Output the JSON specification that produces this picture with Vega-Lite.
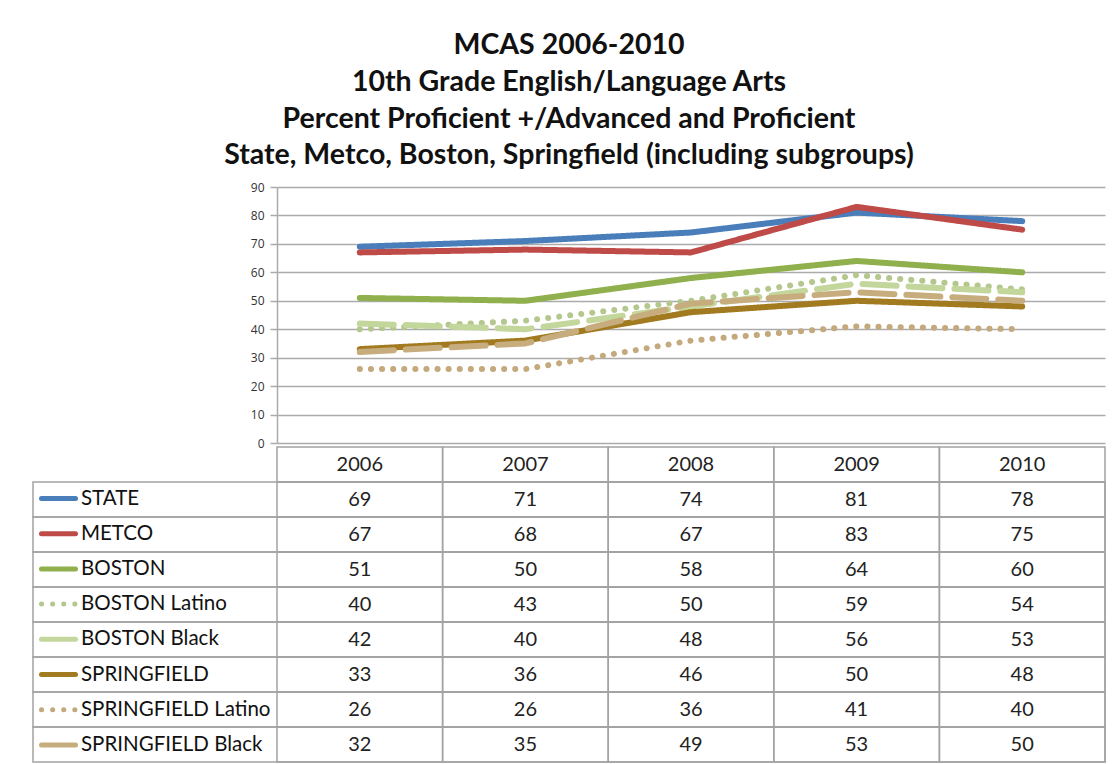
{
  "$schema": "https://vega.github.io/schema/vega-lite/v6.json",
  "width": 1072,
  "height": 575,
  "autosize": {"type": "none"},
  "padding": {"left": 33, "top": 187, "right": 12, "bottom": 2},
  "background": "white",
  "title": {
    "text": ["MCAS 2006-2010", "10th Grade English/Language Arts", "Percent Proficient +/Advanced and Proficient", "State, Metco, Boston, Springfield (including subgroups)"],
    "font": "Lato",
    "fontSize": 28.5,
    "fontWeight": "bold",
    "lineHeight": 36.8,
    "color": "#111111",
    "anchor": "middle",
    "offset": 11
  },
  "config": {"view": {"stroke": null}, "font": "Lato"},
  "datasets": {
    "vals": [
      {"series": "STATE", "year": 2006, "value": 69},
      {"series": "STATE", "year": 2007, "value": 71},
      {"series": "STATE", "year": 2008, "value": 74},
      {"series": "STATE", "year": 2009, "value": 81},
      {"series": "STATE", "year": 2010, "value": 78},
      {"series": "METCO", "year": 2006, "value": 67},
      {"series": "METCO", "year": 2007, "value": 68},
      {"series": "METCO", "year": 2008, "value": 67},
      {"series": "METCO", "year": 2009, "value": 83},
      {"series": "METCO", "year": 2010, "value": 75},
      {"series": "BOSTON", "year": 2006, "value": 51},
      {"series": "BOSTON", "year": 2007, "value": 50},
      {"series": "BOSTON", "year": 2008, "value": 58},
      {"series": "BOSTON", "year": 2009, "value": 64},
      {"series": "BOSTON", "year": 2010, "value": 60},
      {"series": "BOSTON Latino", "year": 2006, "value": 40},
      {"series": "BOSTON Latino", "year": 2007, "value": 43},
      {"series": "BOSTON Latino", "year": 2008, "value": 50},
      {"series": "BOSTON Latino", "year": 2009, "value": 59},
      {"series": "BOSTON Latino", "year": 2010, "value": 54},
      {"series": "BOSTON Black", "year": 2006, "value": 42},
      {"series": "BOSTON Black", "year": 2007, "value": 40},
      {"series": "BOSTON Black", "year": 2008, "value": 48},
      {"series": "BOSTON Black", "year": 2009, "value": 56},
      {"series": "BOSTON Black", "year": 2010, "value": 53},
      {"series": "SPRINGFIELD", "year": 2006, "value": 33},
      {"series": "SPRINGFIELD", "year": 2007, "value": 36},
      {"series": "SPRINGFIELD", "year": 2008, "value": 46},
      {"series": "SPRINGFIELD", "year": 2009, "value": 50},
      {"series": "SPRINGFIELD", "year": 2010, "value": 48},
      {"series": "SPRINGFIELD Latino", "year": 2006, "value": 26},
      {"series": "SPRINGFIELD Latino", "year": 2007, "value": 26},
      {"series": "SPRINGFIELD Latino", "year": 2008, "value": 36},
      {"series": "SPRINGFIELD Latino", "year": 2009, "value": 41},
      {"series": "SPRINGFIELD Latino", "year": 2010, "value": 40},
      {"series": "SPRINGFIELD Black", "year": 2006, "value": 32},
      {"series": "SPRINGFIELD Black", "year": 2007, "value": 35},
      {"series": "SPRINGFIELD Black", "year": 2008, "value": 49},
      {"series": "SPRINGFIELD Black", "year": 2009, "value": 53},
      {"series": "SPRINGFIELD Black", "year": 2010, "value": 50}
    ],
    "years": [{"year": 2006}, {"year": 2007}, {"year": 2008}, {"year": 2009}, {"year": 2010}]
  },
  "resolve": {"scale": {"y": "independent"}, "axis": {"y": "independent"}},
  "layer": [
    {
      "data": {"name": "vals"},
      "mark": {"type": "line", "strokeWidth": 6, "strokeCap": "round", "strokeJoin": "round"},
      "encoding": {
        "x": {
          "field": "year", "type": "ordinal", "bandPosition": 0.5,
          "scale": {"type": "band", "domain": [2006, 2007, 2008, 2009, 2010], "range": [244, 1072], "paddingInner": 0, "paddingOuter": 0},
          "axis": null
        },
        "y": {
          "field": "value", "type": "quantitative",
          "scale": {"domain": [0, 90], "range": [256, 0], "nice": false, "zero": true},
          "axis": {
            "orient": "left", "offset": -244, "title": null,
            "values": [0, 10, 20, 30, 40, 50, 60, 70, 80, 90],
            "grid": true, "gridColor": "#ababab", "gridWidth": 1.5,
            "domainColor": "#ababab", "domainWidth": 1.5,
            "tickColor": "#ababab", "tickWidth": 1.5, "tickSize": 7,
            "labelFont": "Open Sans", "labelFontSize": 12, "labelColor": "#333333", "labelPadding": 6
          }
        },
        "color": {
          "field": "series", "type": "nominal",
          "scale": {
            "domain": ["STATE", "METCO", "BOSTON", "BOSTON Latino", "BOSTON Black", "SPRINGFIELD", "SPRINGFIELD Latino", "SPRINGFIELD Black"],
            "range": ["#4a7ebb", "#be4b48", "#8fb04c", "#b4c78c", "#c3d69b", "#a27b20", "#c4a97c", "#c7ad7e"]
          },
          "legend": {
            "title": null, "orient": "none", "legendX": 6, "legendY": 292,
            "symbolType": "stroke", "symbolSize": 1156, "symbolStrokeWidth": 5,
            "labelFont": "Lato", "labelFontSize": 20.5, "labelColor": "#111111", "labelOffset": 3, "labelLimit": 400,
            "rowPadding": 5.2, "padding": 0,
            "encode": {"symbols": {"update": {"strokeCap": {"value": "round"}}}}
          }
        },
        "strokeDash": {
          "field": "series", "type": "nominal",
          "scale": {
            "domain": ["STATE", "METCO", "BOSTON", "BOSTON Latino", "BOSTON Black", "SPRINGFIELD", "SPRINGFIELD Latino", "SPRINGFIELD Black"],
            "range": [[1, 0], [1, 0], [1, 0], [0.1, 11], [34, 12], [1, 0], [0.1, 11], [34, 12]]
          },
          "legend": {
            "title": null, "orient": "none", "legendX": 6, "legendY": 292,
            "symbolType": "stroke", "symbolSize": 1156, "symbolStrokeWidth": 5,
            "labelFont": "Lato", "labelFontSize": 20.5, "labelColor": "#111111", "labelOffset": 3, "labelLimit": 400,
            "rowPadding": 5.2, "padding": 0,
            "encode": {"symbols": {"update": {"strokeCap": {"value": "round"}}}}
          }
        }
      }
    },
    {
      "data": {"name": "vals"},
      "transform": [{"filter": "datum.year == 2006"}],
      "mark": {"type": "rect", "fill": "transparent", "stroke": "#a3a3a3", "strokeWidth": 1.5},
      "encoding": {
        "y": {
          "field": "series", "type": "nominal",
          "scale": {"type": "band", "domain": ["Year", "STATE", "METCO", "BOSTON", "BOSTON Latino", "BOSTON Black", "SPRINGFIELD", "SPRINGFIELD Latino", "SPRINGFIELD Black"], "range": [260, 575], "paddingInner": 0, "paddingOuter": 0},
          "axis": null
        }
      }
    },
    {
      "data": {"name": "vals"},
      "mark": {"type": "rect", "fill": "transparent", "stroke": "#a3a3a3", "strokeWidth": 1.5},
      "encoding": {
        "x": {"field": "year", "type": "ordinal"},
        "y": {
          "field": "series", "type": "nominal",
          "scale": {"type": "band", "domain": ["Year", "STATE", "METCO", "BOSTON", "BOSTON Latino", "BOSTON Black", "SPRINGFIELD", "SPRINGFIELD Latino", "SPRINGFIELD Black"], "range": [260, 575], "paddingInner": 0, "paddingOuter": 0},
          "axis": null
        }
      }
    },
    {
      "data": {"name": "years"},
      "mark": {"type": "rect", "fill": "transparent", "stroke": "#a3a3a3", "strokeWidth": 1.5},
      "encoding": {
        "x": {"field": "year", "type": "ordinal"},
        "y": {
          "datum": "Year", "type": "nominal",
          "scale": {"type": "band", "domain": ["Year", "STATE", "METCO", "BOSTON", "BOSTON Latino", "BOSTON Black", "SPRINGFIELD", "SPRINGFIELD Latino", "SPRINGFIELD Black"], "range": [260, 575], "paddingInner": 0, "paddingOuter": 0},
          "axis": null
        }
      }
    },
    {
      "data": {"name": "years"},
      "mark": {"type": "text", "font": "Lato", "fontSize": 20, "color": "#222222", "align": "center", "baseline": "middle"},
      "encoding": {
        "x": {"field": "year", "type": "ordinal", "bandPosition": 0.5},
        "y": {
          "datum": "Year", "type": "nominal", "bandPosition": 0.5,
          "scale": {"type": "band", "domain": ["Year", "STATE", "METCO", "BOSTON", "BOSTON Latino", "BOSTON Black", "SPRINGFIELD", "SPRINGFIELD Latino", "SPRINGFIELD Black"], "range": [260, 575], "paddingInner": 0, "paddingOuter": 0},
          "axis": null
        },
        "text": {"field": "year", "type": "ordinal"}
      }
    },
    {
      "data": {"name": "vals"},
      "mark": {"type": "text", "font": "Lato", "fontSize": 20, "color": "#222222", "align": "center", "baseline": "middle"},
      "encoding": {
        "x": {"field": "year", "type": "ordinal", "bandPosition": 0.5},
        "y": {
          "field": "series", "type": "nominal", "bandPosition": 0.5,
          "scale": {"type": "band", "domain": ["Year", "STATE", "METCO", "BOSTON", "BOSTON Latino", "BOSTON Black", "SPRINGFIELD", "SPRINGFIELD Latino", "SPRINGFIELD Black"], "range": [260, 575], "paddingInner": 0, "paddingOuter": 0},
          "axis": null
        },
        "text": {"field": "value", "type": "quantitative"}
      }
    }
  ]
}
